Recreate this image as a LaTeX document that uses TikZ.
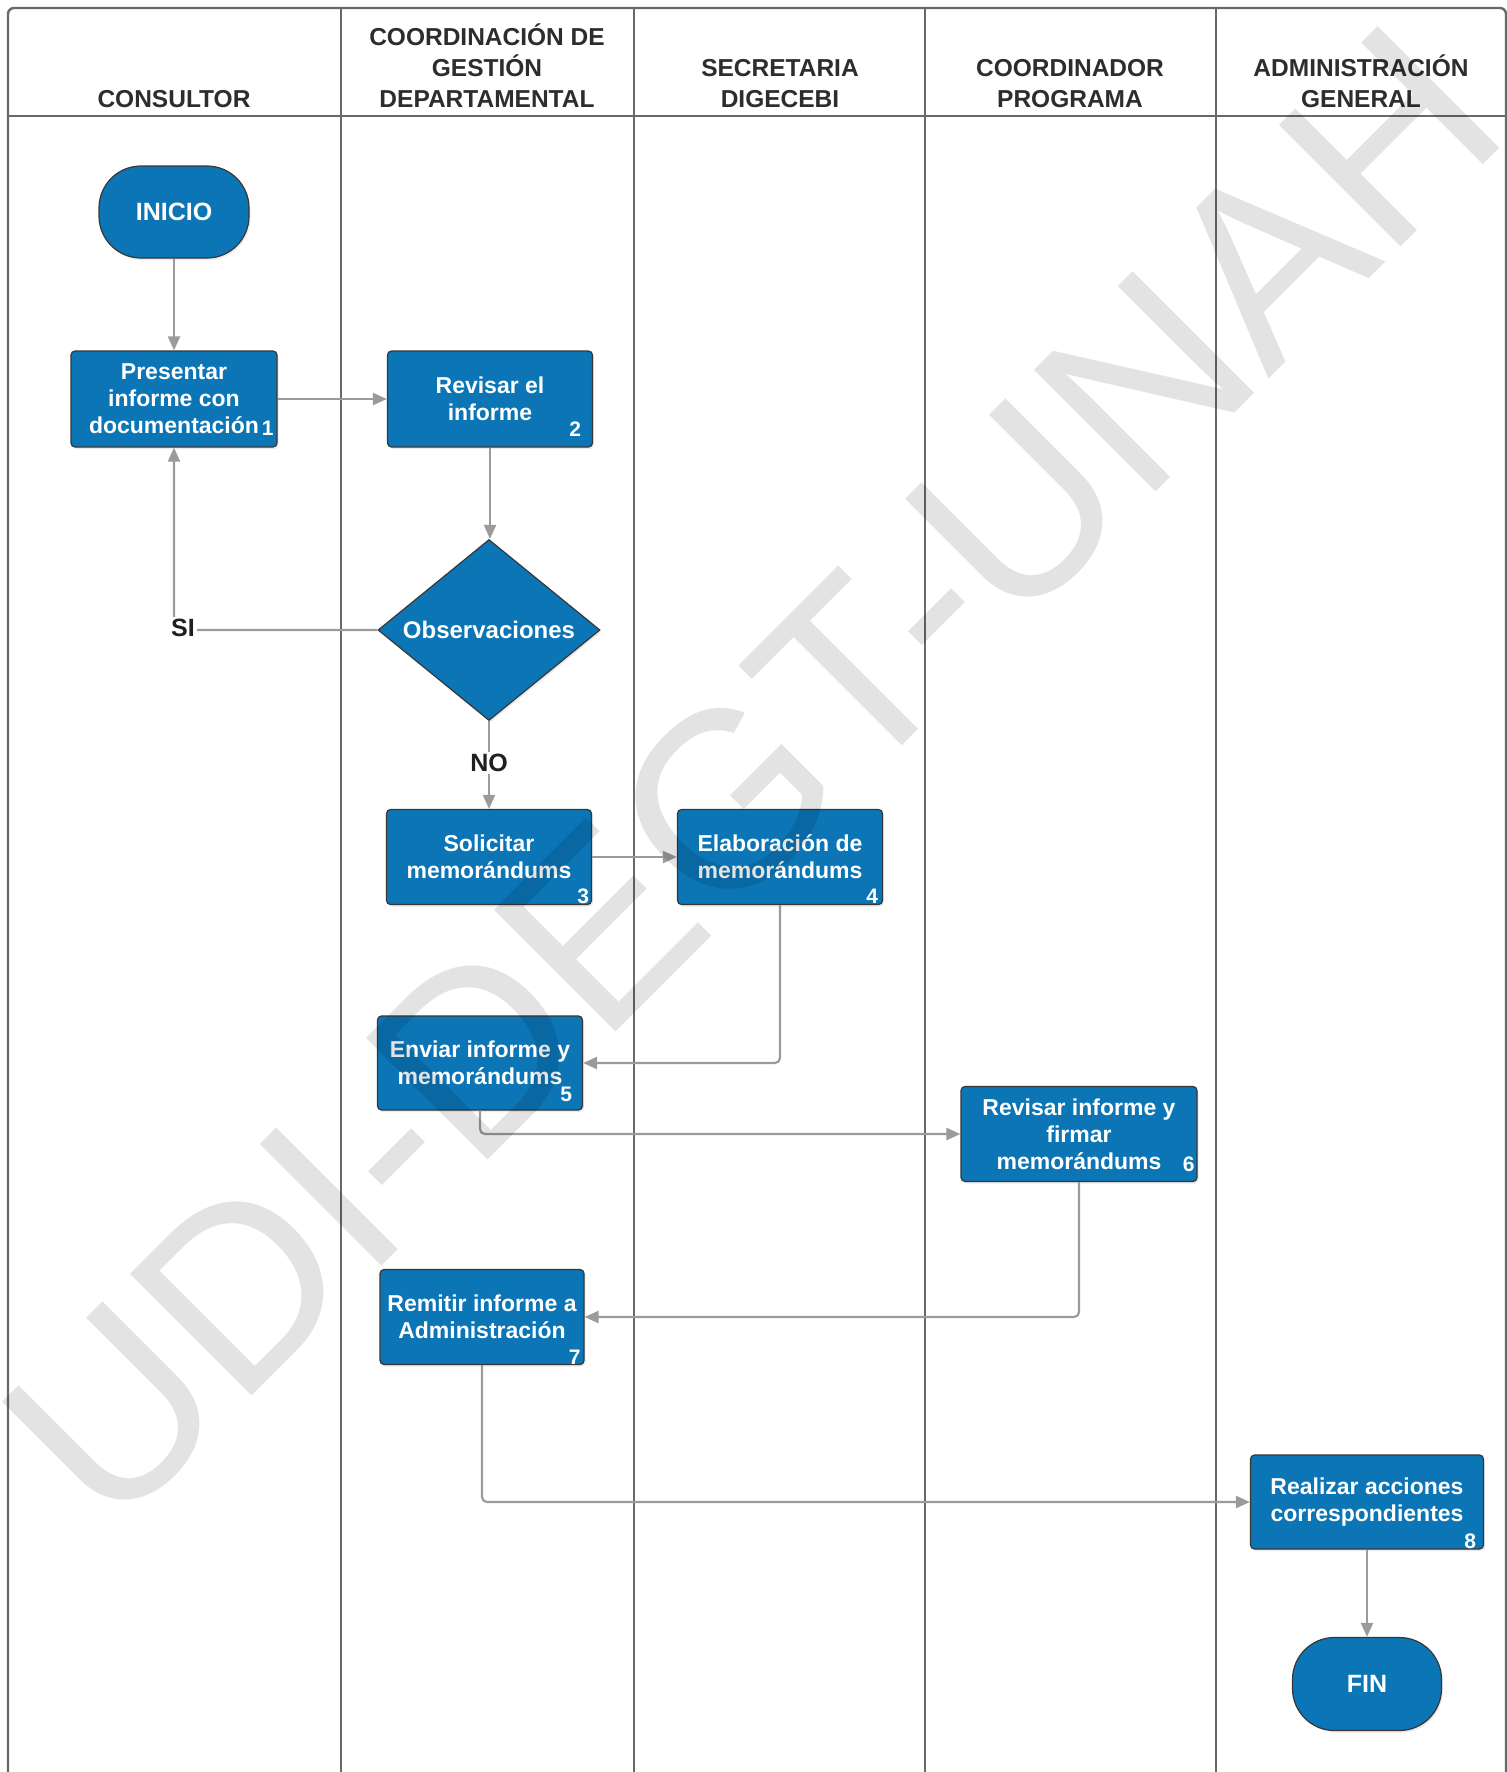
\documentclass[tikz,border=0pt]{standalone}
\usepackage{fontspec}
\setmainfont{Liberation Sans}
\usetikzlibrary{arrows.meta,shapes.geometric,calc,shadows}
\definecolor{boxblue}{RGB}{11,117,182}
\definecolor{edgegray}{RGB}{55,55,55}
\definecolor{flowgray}{RGB}{155,155,155}
\definecolor{lanegray}{RGB}{105,105,105}
\definecolor{headtext}{RGB}{45,45,45}

\begin{document}
\begin{tikzpicture}[x=1pt,y=-1pt,
  lane/.style={draw=lanegray, line width=2.4pt},
  softshadow/.style={drop shadow={opacity=0.16, shadow xshift=1.5pt, shadow yshift=-2pt}},
  procbox/.style={rectangle, rounded corners=4pt, fill=boxblue, draw=edgegray,
    line width=1.2pt, text=white, align=center, inner sep=0pt, softshadow,
    font=\fontsize{23}{27}\selectfont\bfseries},
  terminal/.style={procbox, rounded corners=42pt,
    font=\fontsize{25}{30}\selectfont\bfseries},
  decision/.style={diamond, aspect=1.227, fill=boxblue, draw=edgegray,
    line width=1.2pt, text=white, inner sep=0pt, softshadow,
    font=\fontsize{24}{28}\selectfont\bfseries},
  stepnum/.style={text=white, inner sep=0pt, font=\fontsize{21}{21}\selectfont\bfseries},
  flow/.style={draw=flowgray, line width=2.2pt, rounded corners=5pt,
    -{Triangle[length=14pt,width=12pt]}},
  lanehead/.style={anchor=south, align=center, inner sep=0pt, text=headtext,
    font=\fontsize{24.5}{31}\selectfont\bfseries},
  flowlabel/.style={fill=white, inner sep=2pt, text=black!88,
    font=\fontsize{25}{25}\selectfont\bfseries},
  watermark/.style={rotate=45, anchor=base west, inner sep=0pt, text=black,
    text opacity=0.11, font=\fontsize{250}{250}\selectfont},
]
\useasboundingbox (0,0) rectangle (1507,1772);
\fill[white] (0,0) rectangle (1507,1772);

% swimlane frame, header row and lane dividers
\begin{scope}
  \clip (0,0) rectangle (1507,1772);
  \draw[lane, rounded corners=6pt] (8,1800) -- (8,8) -- (1506,8) -- (1506,1800);
  \draw[lane] (8,116) -- (1506,116);
  \foreach \lx in {341,634,925,1216}
    \draw[lane] (\lx,8) -- (\lx,1800);
\end{scope}

% lane titles
\node[lanehead] (h1) at (174,108) {CONSULTOR};
\node[lanehead] (h2) at (487,108) {COORDINACIÓN DE\\GESTIÓN\\DEPARTAMENTAL};
\node[lanehead] (h3) at (780,108) {SECRETARIA\\DIGECEBI};
\node[lanehead] (h4) at (1070,108) {COORDINADOR\\PROGRAMA};
\node[lanehead] (h5) at (1361,108) {ADMINISTRACIÓN\\GENERAL};

% process steps
\node[terminal, minimum width=150pt, minimum height=92pt] (start) at (174,212) {INICIO};
\node[procbox, minimum width=206pt, minimum height=96pt] (s1) at (174,399) {Presentar\\informe con\\documentación};
\node[procbox, minimum width=205pt, minimum height=96pt] (s2) at (490,399) {Revisar el\\informe};
\node[decision, minimum width=222pt, minimum height=181pt] (obs) at (489,630) {Observaciones};
\node[procbox, minimum width=205pt, minimum height=95pt] (s3) at (489,857) {Solicitar\\memorándums};
\node[procbox, minimum width=205pt, minimum height=95pt] (s4) at (780,857) {Elaboración de\\memorándums};
\node[procbox, minimum width=205pt, minimum height=94pt] (s5) at (480,1063) {Enviar informe y\\memorándums};
\node[procbox, minimum width=236pt, minimum height=95pt] (s6) at (1079,1134) {Revisar informe y\\firmar\\memorándums};
\node[procbox, minimum width=204pt, minimum height=95pt] (s7) at (482,1317) {Remitir informe a\\Administración};
\node[procbox, minimum width=233pt, minimum height=94pt] (s8) at (1367,1502) {Realizar acciones\\correspondientes};
\node[terminal, minimum width=149pt, minimum height=93pt] (fin) at (1367,1684) {FIN};

% step numbers
\node[stepnum] (k1) at ($(s1.south east)+(-10,-19)$) {1};
\node[stepnum] (k2) at ($(s2.south east)+(-18,-18)$) {2};
\node[stepnum] (k3) at ($(s3.south east)+(-9,-9)$) {3};
\node[stepnum] (k4) at ($(s4.south east)+(-11,-9)$) {4};
\node[stepnum] (k5) at ($(s5.south east)+(-17,-16)$) {5};
\node[stepnum] (k6) at ($(s6.south east)+(-9,-18)$) {6};
\node[stepnum] (k7) at ($(s7.south east)+(-10,-8)$) {7};
\node[stepnum] (k8) at ($(s8.south east)+(-14,-8)$) {8};

% connectors
\draw[flow] (start) -- (s1);
\draw[flow] (s1) -- (s2);
\draw[flow] (s2.south) -- (s2.south |- obs.north);
\draw[flow] (obs.west) -| (s1.south);
\node[flowlabel] (si) at (183,628) {SI};
\draw[flow] (obs.south) -- (s3.north);
\node[flowlabel] (no) at (489,763) {NO};
\draw[flow] (s3) -- (s4);
\draw[flow] (s4.south) |- (s5.east);
\draw[flow] (s5.south) |- (s6.west);
\draw[flow] (s6.south) |- (s7.east);
\draw[flow] (s7.south) |- (s8.west);
\draw[flow] (s8) -- (fin);

% diagonal watermark across the sheet
\node[watermark] (mark) at (110,1538) {UDI-DEGT-UNAH};
\end{tikzpicture}
\end{document}
